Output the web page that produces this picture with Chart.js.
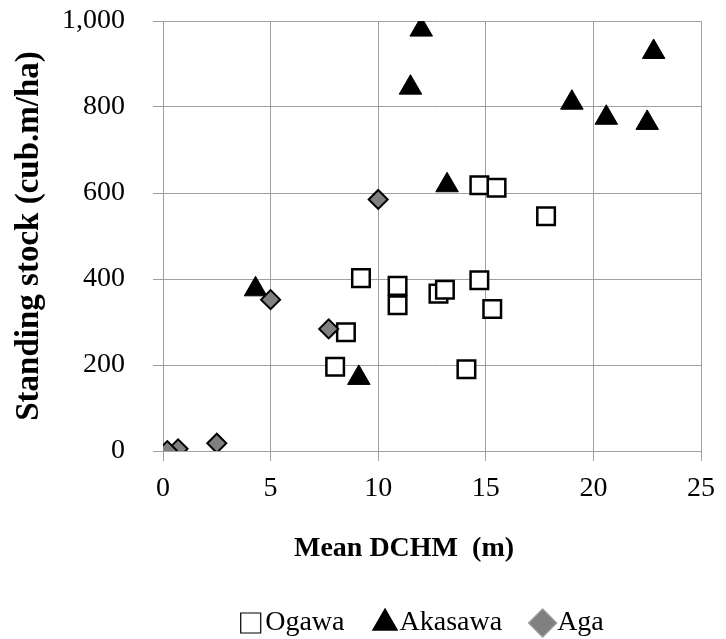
<!DOCTYPE html>
<html>
<head>
<meta charset="utf-8">
<script src="https://cdn.jsdelivr.net/npm/chart.js@4.4.1/dist/chart.umd.min.js"></script>
<style>
  html, body { margin: 0; padding: 0; background: #fff; }
  #wrap { width: 726px; height: 639px; }
</style>
</head>
<body>
<div id="wrap"><canvas id="myChart"></canvas></div>
<script>
/* Data */
var ogawaX = [9.2, 10.9, 10.9, 8.5, 8.0, 12.8, 13.1, 14.7, 15.3, 14.1, 14.7, 15.5, 17.8];
var ogawaY = [402, 384, 339, 276, 196, 366, 375, 397, 330, 190, 618, 612, 546];

var akasawaX = [12.0, 11.5, 22.8, 19.0, 20.6, 22.5, 13.2, 4.3, 9.1];
var akasawaY = [980, 845, 928, 810, 775, 763, 618, 376, 170];

var agaX = [10.0, 5.0, 7.7, 2.5, 0.7, 0.2];
var agaY = [585, 352, 284, 18, 5, 1];

var xTicks = [0, 5, 10, 15, 20, 25];
var yTicks = [0, 200, 400, 600, 800, 1000];

function toPoints(xs, ys) {
    return xs.map(function (x, i) { return { x: x, y: ys[i] }; });
}

const FONT = 'Liberation Serif';
const GRID = '#a0a0a0';

/* move the legend to where the reference has it */
const legendShift = {
    id: 'legendShift',
    afterLayout(chart) {
        const lg = chart.legend;
        if (!lg) return;
        lg.left += 71; lg.right += 71;
        lg.top += 8; lg.bottom += 8;
    }
};

const ctx = document.getElementById('myChart');

new Chart(ctx, {
    type: 'scatter',
    data: {
        datasets: [{
            label: 'Ogawa',
            data: toPoints(ogawaX, ogawaY),
            pointStyle: 'rect',
            pointRadius: 12.4,
            pointHoverRadius: 12.4,
            backgroundColor: '#ffffff',
            borderColor: '#000000',
            borderWidth: 2.5,
            order: 3
        }, {
            label: 'Akasawa',
            data: toPoints(akasawaX, akasawaY),
            pointStyle: 'triangle',
            pointRadius: 13,
            pointHoverRadius: 13,
            backgroundColor: '#000000',
            borderColor: '#000000',
            borderWidth: 1,
            order: 2
        }, {
            label: 'Aga',
            data: toPoints(agaX, agaY),
            pointStyle: 'rectRot',
            pointRadius: 9.5,
            pointHoverRadius: 9.5,
            backgroundColor: '#808080',
            borderColor: '#000000',
            borderWidth: 2,
            order: 1
        }]
    },
    options: {
        responsive: true,
        maintainAspectRatio: false,
        animation: false,
        layout: {
            padding: { left: 0, right: 14, top: 0, bottom: 0 }
        },
        plugins: {
            tooltip: { enabled: false },
            legend: {
                position: 'bottom',
                labels: {
                    usePointStyle: true,
                    boxWidth: 1,
                    boxHeight: 20,
                    padding: 40,
                    color: '#000',
                    font: { family: FONT, size: 28 },
                    sort: function (a, b) { return a.datasetIndex - b.datasetIndex; },
                    generateLabels: function (chart) {
                        var items = Chart.defaults.plugins.legend.labels.generateLabels(chart);
                        items.forEach(function (it) {
                            it.lineWidth = 1.2;
                            if (it.datasetIndex === 2) it.strokeStyle = '#a0a0a0';
                        });
                        return items;
                    }
                }
            }
        },
        scales: {
            x: {
                type: 'linear',
                min: 0,
                max: 25,
                afterBuildTicks: function (scale) {
                    scale.ticks = xTicks.map(function (v) { return { value: v }; });
                },
                afterFit: function (scale) { scale.height = 110; },
                grid: { color: GRID, lineWidth: 1, tickLength: 10, tickColor: GRID },
                border: { color: GRID, width: 1 },
                ticks: {
                    color: '#000',
                    padding: 11,
                    maxRotation: 0,
                    font: { family: FONT, size: 28 }
                },
                title: {
                    display: true,
                    text: 'Mean DCHM  (m)\u00a0\u00a0\u00a0\u00a0\u00a0\u00a0\u00a0\u00a0',
                    color: '#000',
                    padding: { top: 0, bottom: -5 },
                    font: { family: FONT, size: 28, weight: 'bold' }
                }
            },
            y: {
                type: 'linear',
                min: 0,
                max: 1000,
                afterBuildTicks: function (scale) {
                    scale.ticks = yTicks.map(function (v) { return { value: v }; });
                },
                afterFit: function (scale) {
                    scale.width = 163;
                    scale.paddingTop = 21;
                    scale.paddingBottom = 0;
                },
                grid: { color: GRID, lineWidth: 1, tickLength: 10, tickColor: GRID },
                border: { color: GRID, width: 1 },
                ticks: {
                    color: '#000',
                    padding: 28,
                    font: { family: FONT, size: 28 }
                },
                title: {
                    display: true,
                    text: 'Standing stock (cub.m/ha)',
                    color: '#000',
                    padding: { top: 10, bottom: 0 },
                    font: { family: FONT, size: 33, weight: 'bold' }
                }
            }
        }
    },
    plugins: [legendShift]
});
</script>
</body>
</html>
